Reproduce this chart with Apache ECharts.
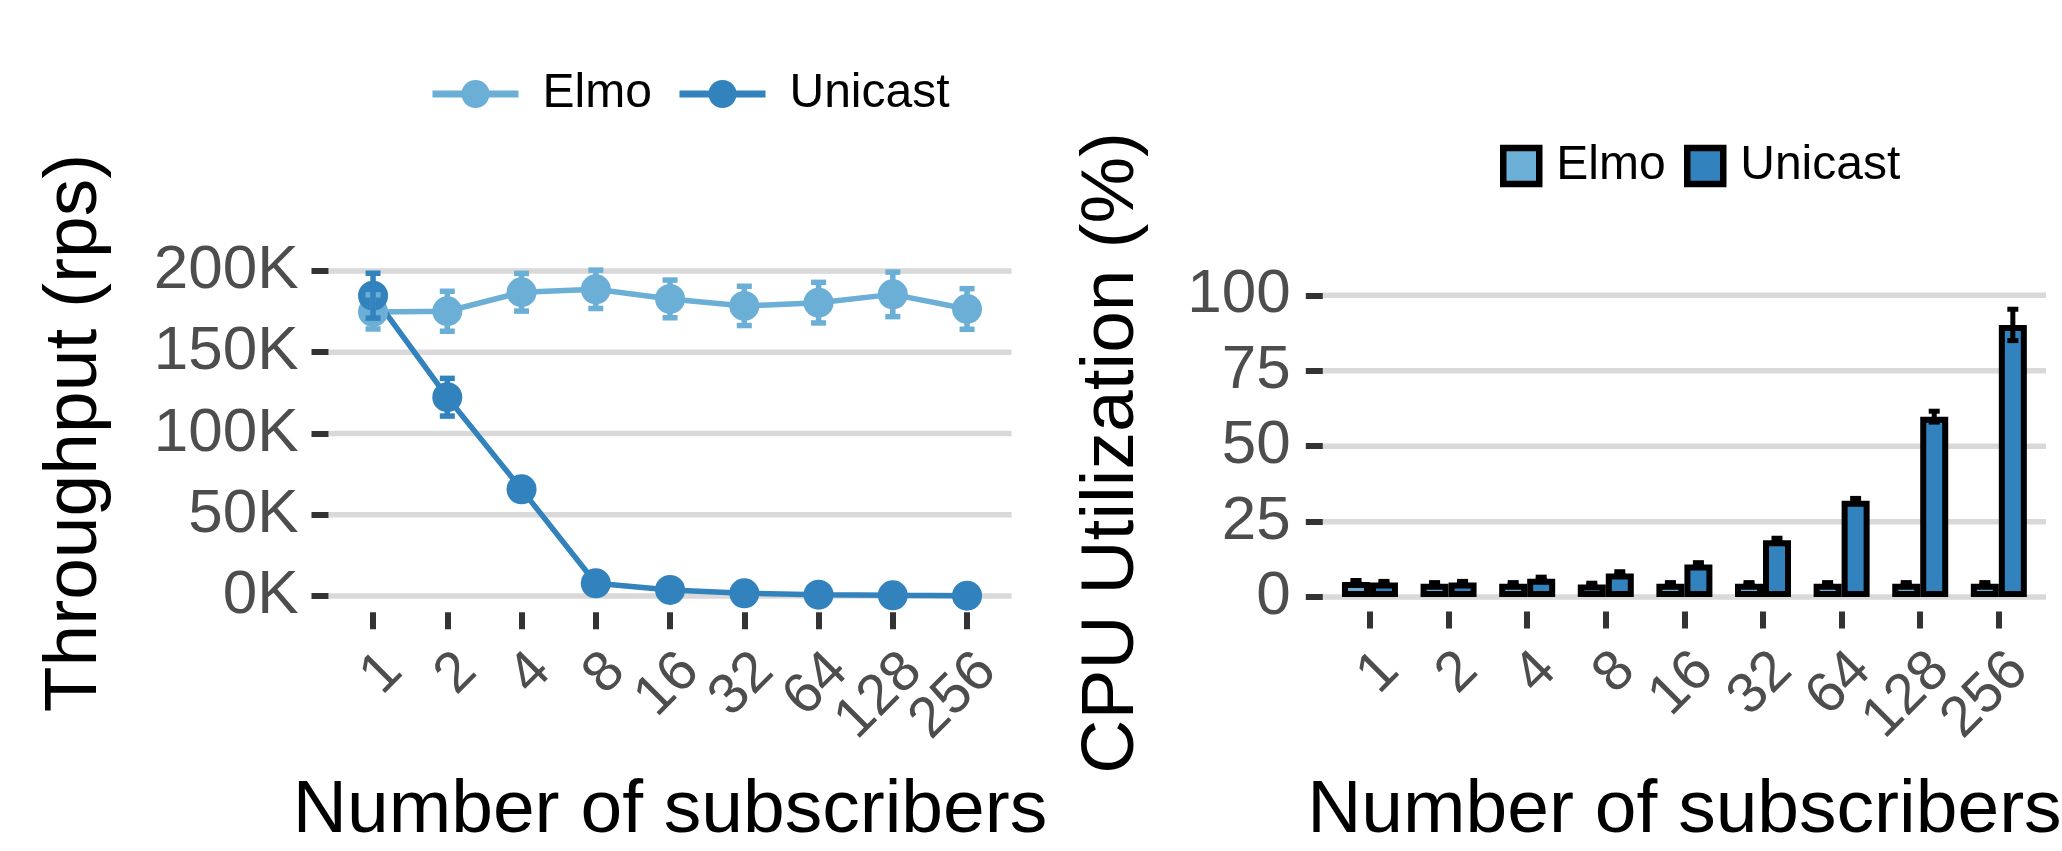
<!DOCTYPE html>
<html>
<head>
<meta charset="utf-8">
<title>Elmo vs Unicast</title>
<script src="https://cdn.jsdelivr.net/npm/echarts@6/dist/echarts.min.js"></script>
<style>
  html, body { margin: 0; padding: 0; background: #fff; }
  #chart { width: 2062px; height: 851px; }
</style>
</head>
<body>
<div id="chart"></div>
<script>
// Subscriber counts on the x axis of both panels
const categories = ['1', '2', '4', '8', '16', '32', '64', '128', '256'];
const categoryIndex = categories.map((c, i) => i);

// Tick values
const throughputTicks = [0, 50000, 100000, 150000, 200000];
const cpuTicks = [0, 25, 50, 75, 100];

// Throughput (requests per second) with error half-widths
const elmoThroughput = [174800, 175200, 186900, 188700, 182800, 178500, 180500, 185600, 176600];
const elmoThroughputErr = [10500, 12300, 11600, 11800, 11600, 12100, 12500, 13700, 12500];
const unicastThroughput = [184800, 122300, 65600, 7800, 3700, 1600, 800, 400, 200];
const unicastThroughputErr = [13800, 11600, 1500, 1000, 600, 400, 300, 200, 200];

// CPU utilization (%) with error half-widths
const elmoCpu = [5.0, 4.4, 4.4, 4.2, 4.4, 4.4, 4.4, 4.4, 4.4];
const elmoCpuErr = [0.5, 0.4, 0.4, 0.4, 0.4, 0.4, 0.4, 0.4, 0.4];
const unicastCpu = [4.8, 4.8, 6.1, 7.8, 10.8, 18.8, 31.9, 59.8, 90.2];
const unicastCpuErr = [0.4, 0.4, 0.5, 0.6, 0.6, 0.7, 0.8, 1.8, 5.2];

const ELMO = '#6baed6';
const UNICAST = '#3182bd';
const FONT = '"Liberation Sans", Arial, Helvetica, sans-serif';
const TICK_TEXT = '#4d4d4d';
const TICK_LINE = '#333333';
const GRID_LINE = '#d9d9d9';

// x range of the discrete scale, padded by 0.6 of a step on each side
const X_MIN = -0.6;
const X_MAX = 8.6;

// Horizontal reference lines at each y tick, spanning the panel
function gridLines(axisIndex, ticks) {
  return {
    type: 'custom', xAxisIndex: axisIndex, yAxisIndex: axisIndex,
    silent: true, z: 0,
    data: ticks.map(v => [0, v]),
    encode: { x: 0, y: 1 },
    renderItem(params, api) {
      const cs = params.coordSys;
      const y = api.coord([0, api.value(1)])[1];
      return {
        type: 'line',
        shape: { x1: cs.x, y1: y, x2: cs.x + cs.width, y2: y },
        style: { stroke: GRID_LINE, lineWidth: 5.5 }
      };
    }
  };
}

// Vertical error bars with caps
function errorBars(axisIndex, values, errs, color, capWidth, lineWidth, dx) {
  return {
    type: 'custom', xAxisIndex: axisIndex, yAxisIndex: axisIndex,
    silent: true, z: 5,
    data: values.map((v, i) => [i, v - errs[i], v + errs[i]]),
    encode: { x: 0, y: [1, 2] },
    renderItem(params, api) {
      const lo = api.coord([api.value(0), api.value(1)]);
      const hi = api.coord([api.value(0), api.value(2)]);
      const x = lo[0] + dx;
      const h = capWidth / 2;
      const style = { stroke: color, lineWidth: lineWidth };
      return {
        type: 'group',
        children: [
          { type: 'line', shape: { x1: x, y1: hi[1], x2: x, y2: lo[1] }, style },
          { type: 'line', shape: { x1: x - h, y1: hi[1], x2: x + h, y2: hi[1] }, style },
          { type: 'line', shape: { x1: x - h, y1: lo[1], x2: x + h, y2: lo[1] }, style }
        ]
      };
    }
  };
}

function xAxisFor(gridIndex) {
  // blank labels at both ends keep every category label visible
  const labelValues = [X_MIN].concat(categoryIndex, [X_MAX]);
  return {
    type: 'value', gridIndex,
    min: X_MIN, max: X_MAX,
    name: 'Number of subscribers', nameLocation: 'middle', nameGap: 162,
    nameTextStyle: { fontSize: 75, color: '#000', fontFamily: FONT },
    axisLine: { show: false, onZero: false },
    splitLine: { show: false },
    axisTick: { show: true, customValues: categoryIndex, length: 17, lineStyle: { color: TICK_LINE, width: 6 } },
    axisLabel: {
      customValues: labelValues,
      formatter: v => {
        const i = Math.round(v);
        return (Math.abs(v - i) < 1e-6 && categories[i] !== undefined) ? categories[i] : ' ';
      },
      rotate: 45, margin: 30, verticalAlign: 'top',
      hideOverlap: false,
      fontSize: 57, color: TICK_TEXT, fontFamily: FONT
    }
  };
}

function yAxisFor(gridIndex, min, max, title, gap, ticks, fmt, margin) {
  return {
    type: 'value', gridIndex, min, max,
    name: title, nameLocation: 'middle', nameGap: gap,
    nameTextStyle: { fontSize: 75, color: '#000', fontFamily: FONT },
    axisLine: { show: false, onZero: false }, splitLine: { show: false },
    axisTick: { show: true, customValues: ticks, length: 17, lineStyle: { color: TICK_LINE, width: 6 } },
    axisLabel: {
      customValues: ticks, formatter: fmt,
      hideOverlap: false, showMinLabel: true, showMaxLabel: true,
      margin, fontSize: 62, color: TICK_TEXT, fontFamily: FONT
    }
  };
}

const legendText = pad => ({ fontSize: 48, lineHeight: 48, color: '#000', fontFamily: FONT, padding: [0, 0, 0, pad] });

const option = {
  backgroundColor: '#fff',
  animation: false,
  grid: [
    { left: 328.5, top: 253.9, width: 683.1, height: 358.3, outerBoundsMode: 'none', containLabel: false },
    { left: 1322.8, top: 294.2, width: 723.2, height: 317.3, outerBoundsMode: 'none', containLabel: false }
  ],
  xAxis: [xAxisFor(0), xAxisFor(1)],
  yAxis: [
    yAxisFor(0, -10000, 210500, 'Throughput (rps)', 216, throughputTicks, v => Math.round(v / 1000) + 'K', 30),
    yAxisFor(1, -4.78, 100.38, 'CPU Utilization (%)', 173, cpuTicks, v => String(Math.round(v)), 32)
  ],
  legend: [
    {
      left: 429, top: 70, padding: 0, itemWidth: 86, itemHeight: 35,
      data: ['Elmo'], lineStyle: { width: 7 }, textStyle: legendText(19)
    },
    {
      left: 676, top: 70, padding: 0, itemWidth: 86, itemHeight: 35,
      data: ['Unicast'], lineStyle: { width: 7 }, textStyle: legendText(19)
    },
    {
      left: 1500, top: 142, padding: 0, itemWidth: 36, itemHeight: 36,
      itemStyle: { borderColor: '#000', borderWidth: 6.5 },
      data: [{ name: 'Elmo', icon: 'rect', itemStyle: { color: ELMO, borderColor: '#000', borderWidth: 6.5 } }],
      textStyle: legendText(12)
    },
    {
      left: 1684, top: 142, padding: 0, itemWidth: 36, itemHeight: 36,
      itemStyle: { borderColor: '#000', borderWidth: 6.5 },
      data: [{ name: 'Unicast', icon: 'rect', itemStyle: { color: UNICAST, borderColor: '#000', borderWidth: 6.5 } }],
      textStyle: legendText(12)
    }
  ],
  series: [
    gridLines(0, throughputTicks),
    gridLines(1, cpuTicks),
    {
      name: 'Elmo', type: 'line', xAxisIndex: 0, yAxisIndex: 0, z: 2,
      data: elmoThroughput.map((v, i) => [i, v]),
      symbol: 'circle', symbolSize: 30, showSymbol: true,
      lineStyle: { color: ELMO, width: 5.5 }, itemStyle: { color: ELMO }
    },
    {
      name: 'Unicast', type: 'line', xAxisIndex: 0, yAxisIndex: 0, z: 2,
      data: unicastThroughput.map((v, i) => [i, v]),
      symbol: 'circle', symbolSize: 30, showSymbol: true,
      lineStyle: { color: UNICAST, width: 5.5 }, itemStyle: { color: UNICAST }
    },
    errorBars(0, elmoThroughput, elmoThroughputErr, ELMO, 15, 5.5, 0),
    errorBars(0, unicastThroughput, unicastThroughputErr, UNICAST, 15, 5.5, 0),
    {
      name: 'Elmo', type: 'bar', xAxisIndex: 1, yAxisIndex: 1, z: 2,
      data: elmoCpu.map((v, i) => [i, v]),
      barWidth: 28, barGap: '0%',
      itemStyle: { color: ELMO, borderColor: '#000', borderWidth: 6 }
    },
    {
      name: 'Unicast', type: 'bar', xAxisIndex: 1, yAxisIndex: 1, z: 2,
      data: unicastCpu.map((v, i) => [i, v]),
      barWidth: 28, barGap: '0%',
      itemStyle: { color: UNICAST, borderColor: '#000', borderWidth: 6 }
    },
    errorBars(1, elmoCpu, elmoCpuErr, '#000', 11, 5, -14),
    errorBars(1, unicastCpu, unicastCpuErr, '#000', 11, 5, 14)
  ]
};

const chart = echarts.init(document.getElementById('chart'), null, { renderer: 'canvas' });
chart.setOption(option);
</script>
</body>
</html>
